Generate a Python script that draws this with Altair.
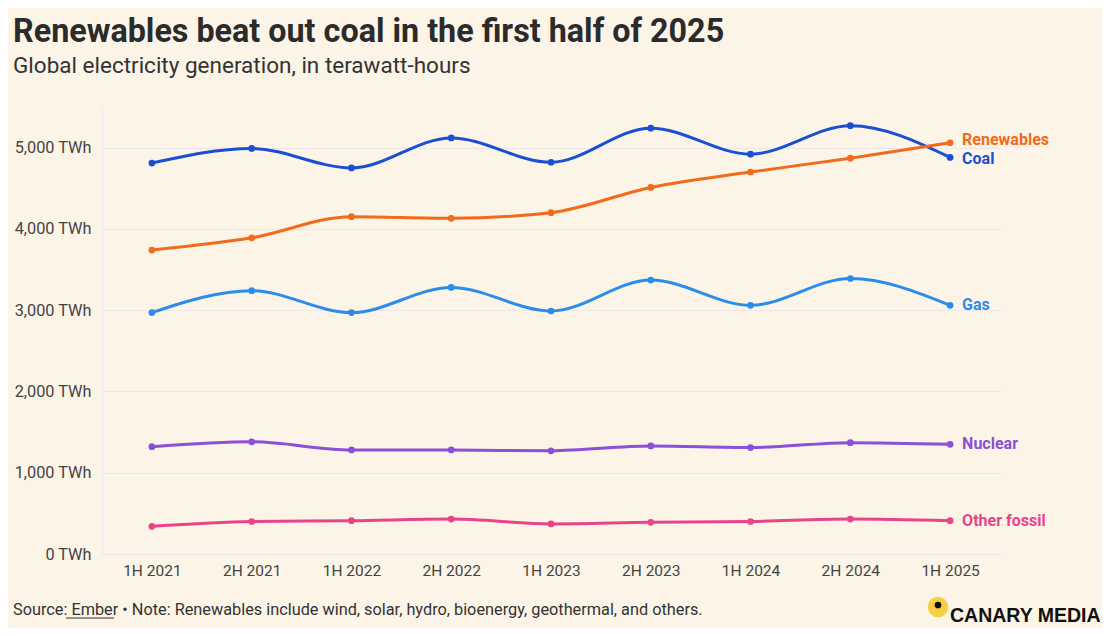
import altair as alt
import pandas as pd

periods = ["1H 2021", "2H 2021", "1H 2022", "2H 2022", "1H 2023", "2H 2023", "1H 2024", "2H 2024", "1H 2025"]
coal = [4810, 4990, 4750, 5120, 4820, 5240, 4920, 5270, 4880]
renewables = [3740, 3890, 4150, 4130, 4200, 4510, 4700, 4870, 5060]
gas = [2970, 3240, 2970, 3280, 2990, 3370, 3060, 3390, 3060]
nuclear = [1320, 1380, 1280, 1280, 1270, 1330, 1310, 1370, 1350]
other_fossil = [340, 400, 410, 430, 370, 390, 400, 430, 410]

series_names = ["Coal", "Renewables", "Gas", "Nuclear", "Other fossil"]
series_colors = ["#1b4fd3", "#f26a1c", "#2b8deb", "#8b4fd8", "#e8448a"]
y_ticks = [0, 1000, 2000, 3000, 4000, 5000]

title_text = "Renewables beat out coal in the first half of 2025"
subtitle_text = "Global electricity generation, in terawatt-hours"
footer_text = ["Source: Ember \u2022 Note: Renewables include wind, solar, hydro, bioenergy, geothermal, and others."]
logo_text = ["CANARY MEDIA"]

rows = []
for name, vals in zip(series_names, [coal, renewables, gas, nuclear, other_fossil]):
    for p, v in zip(periods, vals):
        rows.append({"period": p, "series": name, "value": v})
df = pd.DataFrame(rows)
last = df[df["period"] == periods[-1]]

FONT = "Roboto"
BG = "#fbf4e7"

x_enc = alt.X("period:N", sort=periods, scale=alt.Scale(type="point", padding=0.5),
              axis=alt.Axis(title=None, labelAngle=0, ticks=False, domain=False, grid=False,
                            labelFontSize=15.5, labelColor="#444444", labelFont=FONT, labelPadding=9))
y_enc = alt.Y("value:Q", scale=alt.Scale(domain=[0, 5500], nice=False),
              axis=alt.Axis(title=None, values=y_ticks, ticks=False, domain=True, domainColor="#efe8ee",
                            gridColor="#ece5ea", gridWidth=1,
                            labelExpr="format(datum.value, ',') + ' TWh'",
                            labelFontSize=16.3, labelColor="#444444", labelFont=FONT, labelPadding=11))
color_enc = alt.Color("series:N", scale=alt.Scale(domain=series_names, range=series_colors), legend=None)

base = alt.Chart(df)
lines = base.mark_line(interpolate="monotone", strokeWidth=3).encode(x=x_enc, y=y_enc, color=color_enc)
points = base.mark_point(filled=True, size=45, opacity=1).encode(x=x_enc, y=y_enc, color=color_enc)

lab_base = alt.Chart(last)
label_common = dict(align="left", baseline="middle", dx=12, fontSize=16, fontWeight="bold", font=FONT)
lab_x = alt.X("period:N", sort=periods)
labels_mid = lab_base.transform_filter(
    alt.FieldOneOfPredicate(field="series", oneOf=["Gas", "Nuclear", "Other fossil"])
).mark_text(**label_common).encode(x=lab_x, y="value:Q", text="series:N", color=color_enc)
labels_ren = lab_base.transform_filter(alt.datum.series == "Renewables").mark_text(dy=-3, **label_common).encode(
    x=lab_x, y="value:Q", text="series:N", color=color_enc)
labels_coal = lab_base.transform_filter(alt.datum.series == "Coal").mark_text(dy=2, **label_common).encode(
    x=lab_x, y="value:Q", text="series:N", color=color_enc)

footer = alt.Chart(pd.DataFrame({"t": footer_text})).mark_text(
    align="left", baseline="middle", fontSize=16.3, font=FONT, color="#333333"
).encode(x=alt.value(-89), y=alt.value(503), text="t:N")
underline = alt.Chart(pd.DataFrame({"t": footer_text})).mark_rule(color="#333333", strokeWidth=1).encode(
    x=alt.value(-36), x2=alt.value(12), y=alt.value(511))

logo_circle = alt.Chart(pd.DataFrame({"t": logo_text})).mark_point(
    filled=True, size=420, color="#f6cf45", opacity=1).encode(x=alt.value(836), y=alt.value(500))
logo_dot = alt.Chart(pd.DataFrame({"t": logo_text})).mark_point(
    filled=True, size=45, color="#111111", opacity=1).encode(x=alt.value(836), y=alt.value(498))
logo = alt.Chart(pd.DataFrame({"t": logo_text})).mark_text(
    align="left", baseline="alphabetic", fontSize=19.5, fontWeight="bold", font="Liberation Sans", color="#111111"
).encode(x=alt.value(848), y=alt.value(515), text="t:N")

chart = alt.layer(lines, points, labels_mid, labels_ren, labels_coal, footer, underline,
                  logo_circle, logo_dot, logo).properties(
    width=898, height=447,
    autosize=alt.AutoSizeParams(type="none"),
    padding={"left": 94, "top": 99, "right": 102, "bottom": 74},
    background=BG,
    title=alt.TitleParams(
        text=title_text, subtitle=subtitle_text, anchor="start", frame="group", dx=-89, offset=30,
        font=FONT, fontSize=32.3, fontWeight="bold", color="#2b2b2b",
        subtitleFont=FONT, subtitleFontSize=22.5, subtitleColor="#333333", subtitlePadding=6,
    ),
).configure_view(stroke=None)

chart.save("out.html", embed_options={"renderer": "svg", "actions": False})
